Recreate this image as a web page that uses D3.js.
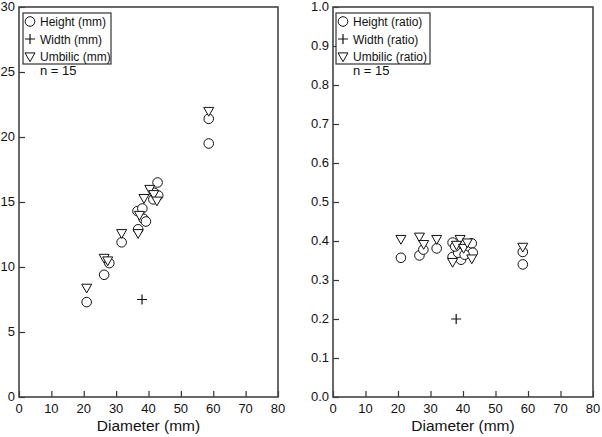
<!DOCTYPE html>
<html>
<head>
<meta charset="utf-8">
<script src="https://cdn.jsdelivr.net/npm/d3@7"></script>
<style>
  body { margin: 0; background: #fff; }
  text { font-family: "Liberation Sans", Arial, sans-serif; fill: #111; }
</style>
</head>
<body>
<div class="chart"></div>
<script>
// ---- data ----
var xTicks = [0, 10, 20, 30, 40, 50, 60, 70, 80];
var yTicksMm = [0, 5, 10, 15, 20, 25, 30];
var yTicksRatio = [0, 0.1, 0.2, 0.3, 0.4, 0.5, 0.6, 0.7, 0.8, 0.9, 1.0];

// left panel: [diameter, value] in mm
var heightMm = [[20.9, 7.3], [26.3, 9.4], [27.9, 10.3], [31.7, 11.9], [36.8, 12.9],
    [36.6, 14.3], [38.1, 14.5], [38.5, 13.7], [39.2, 13.5], [41.5, 15.2],
    [41.8, 15.7], [43.0, 15.5], [42.8, 16.5], [58.6, 21.4], [58.6, 19.5]];
var widthMm = [[38.0, 7.5]];
var umbilicMm = [[20.9, 8.4], [26.3, 10.7], [27.4, 10.5], [31.7, 12.6], [36.8, 12.6],
    [37.2, 14.0], [38.6, 15.3], [40.4, 16.0], [41.6, 15.6], [42.6, 15.1],
    [58.6, 22.0]];

// right panel: [diameter, ratio]
var heightRatio = [[20.9, 0.357], [26.6, 0.363], [27.8, 0.378], [31.9, 0.381], [36.8, 0.396],
    [36.8, 0.359], [39.4, 0.352], [38.5, 0.370], [41.3, 0.380], [42.7, 0.394],
    [43.0, 0.370], [40.5, 0.365], [37.6, 0.386], [58.4, 0.372], [58.4, 0.340]];
var widthRatio = [[37.9, 0.200]];
var umbilicRatio = [[20.9, 0.405], [26.6, 0.411], [27.9, 0.392], [31.9, 0.405], [39.1, 0.405],
    [36.8, 0.346], [42.7, 0.355], [38.0, 0.390], [40.2, 0.382], [41.3, 0.396],
    [58.4, 0.385]];

var W = 602, H = 437;
var svg = d3.select(".chart").append("svg")
    .attr("width", W)
    .attr("height", H);

var sym = {
    circle: function (g) {
        g.append("circle").attr("r", 4.8).attr("fill", "#fff").attr("stroke", "#111").attr("stroke-width", 1);
    },
    plus: function (g) {
        g.append("path").attr("d", "M-5,0H5M0,-5V5").attr("stroke", "#111").attr("stroke-width", 1.2).attr("fill", "none");
    },
    tri: function (g) {
        g.append("path").attr("d", "M-5,-3.6L5,-3.6L0,5.2Z").attr("fill", "#fff").attr("stroke", "#111").attr("stroke-width", 1);
    }
};

function panel(opt) {
    var g = svg.append("g");
    var x = d3.scaleLinear().domain([0, 80]).range([opt.left, opt.right]);
    var y = d3.scaleLinear().domain(opt.yDomain).range([397, 7]);

    // inward ticks
    var xAxis = d3.axisTop(x).tickValues(xTicks).tickSize(6).tickFormat("");
    g.append("g").attr("transform", "translate(0," + y.range()[0] + ")").call(xAxis)
        .call(a => a.select(".domain").remove());
    var yAxis = d3.axisRight(y).tickValues(opt.yTicks).tickSize(6).tickFormat("");
    g.append("g").attr("transform", "translate(" + opt.left + ",0)").call(yAxis)
        .call(a => a.select(".domain").remove());
    g.selectAll(".tick line").attr("stroke", "#333").attr("stroke-width", 1.2);

    // tick labels
    g.selectAll(".xl").data(xTicks).enter().append("text")
        .attr("x", d => x(d)).attr("y", 413)
        .attr("text-anchor", "middle").style("font-size", "13px")
        .text(d => d);
    g.selectAll(".yl").data(opt.yTicks).enter().append("text")
        .attr("x", opt.left - 4).attr("y", d => y(d) + 4)
        .attr("text-anchor", "end").style("font-size", "13px")
        .text(opt.fmt);

    // frame
    g.append("rect")
        .attr("x", opt.left).attr("y", 7)
        .attr("width", opt.right - opt.left).attr("height", 390)
        .attr("fill", "none").attr("stroke", "#444").attr("stroke-width", 1.6);

    g.append("text")
        .attr("x", (opt.left + opt.right) / 2).attr("y", 431)
        .attr("text-anchor", "middle").style("font-size", "15.5px")
        .text("Diameter (mm)");

    // points
    function plot(data, s) {
        g.selectAll(null).data(data).enter().append("g")
            .attr("transform", d => "translate(" + x(d[0]) + "," + y(d[1]) + ")")
            .each(function () { s(d3.select(this)); });
    }
    plot(opt.series[0], sym.circle);
    plot(opt.series[2], sym.tri);
    plot(opt.series[1], sym.plus);

    // legend
    var lx = opt.left + opt.legDx;
    g.append("rect")
        .attr("x", lx).attr("y", 13)
        .attr("width", opt.legW).attr("height", 51)
        .attr("fill", "#fff").attr("stroke", "#333").attr("stroke-width", 1.2);
    var shapes = [sym.circle, sym.plus, sym.tri];
    opt.labels.forEach(function (lab, i) {
        var yy = 21.5 + i * 17.5;
        var m = g.append("g").attr("transform", "translate(" + (lx + 7) + "," + yy + ")");
        shapes[i](m);
        g.append("text").attr("x", lx + 17).attr("y", yy + 4.5)
            .style("font-size", "12px").text(lab);
    });
    g.append("text").attr("x", lx + 17).attr("y", 75)
        .style("font-size", "13px").text("n = 15");
}

panel({
    left: 19, right: 278, yDomain: [0, 30], yTicks: yTicksMm,
    fmt: d => d,
    series: [heightMm, widthMm, umbilicMm],
    labels: ["Height (mm)", "Width (mm)", "Umbilic (mm)"],
    legDx: 4, legW: 88
});

panel({
    left: 333, right: 593, yDomain: [0, 1], yTicks: yTicksRatio,
    fmt: d3.format(".1f"),
    series: [heightRatio, widthRatio, umbilicRatio],
    labels: ["Height (ratio)", "Width (ratio)", "Umbilic (ratio)"],
    legDx: 3, legW: 94
});
</script>
</body>
</html>
